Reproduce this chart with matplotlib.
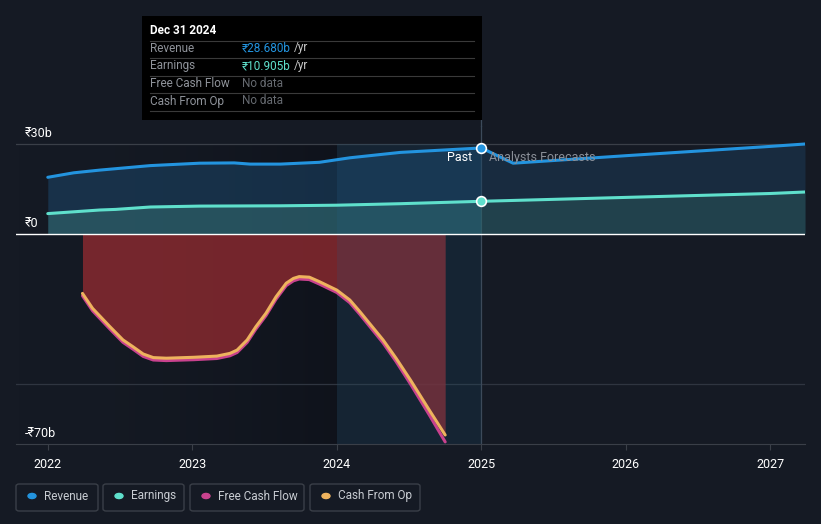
import numpy as np
import matplotlib.pyplot as plt
from matplotlib.patches import Rectangle, FancyBboxPatch
from matplotlib.colors import LinearSegmentedColormap

# ---- data (₹ billions) ----
rev_past_x = [2022.0, 2022.18, 2022.36, 2022.71, 2023.05, 2023.29, 2023.40, 2023.61,
              2023.88, 2024.09, 2024.44, 2024.78, 2025.0]
rev_past_y = [18.9, 20.4, 21.3, 22.8, 23.6, 23.7, 23.3, 23.3, 23.9, 25.4, 27.2, 28.1, 28.68]
rev_fc_x = [2025.0, 2025.22, 2026.0, 2027.0, 2027.24]
rev_fc_y = [28.68, 23.6, 26.1, 29.2, 30.0]

earn_past_x = [2022.0, 2022.36, 2022.47, 2022.71, 2023.05, 2023.61, 2024.0, 2024.44, 2025.0]
earn_past_y = [6.8, 8.0, 8.2, 9.0, 9.3, 9.4, 9.6, 10.1, 10.9]
earn_fc_x = [2025.0, 2026.0, 2027.0, 2027.24]
earn_fc_y = [10.9, 12.2, 13.5, 14.0]

cf_x = [2022.24, 2022.31, 2022.43, 2022.52, 2022.59, 2022.66, 2022.73, 2022.82, 2023.01,
        2023.17, 2023.26, 2023.31, 2023.38, 2023.44, 2023.51, 2023.58, 2023.65, 2023.70,
        2023.74, 2023.81, 2023.88, 2024.0, 2024.09, 2024.16, 2024.32, 2024.41, 2024.51,
        2024.64, 2024.75]
cfo_y = [-19.8, -24.8, -30.9, -35.3, -37.6, -40.0, -41.2, -41.4, -41.1,
         -40.7, -39.8, -38.7, -35.3, -30.9, -26.4, -20.9, -16.4, -14.8,
         -14.2, -14.4, -15.9, -18.7, -22.0, -25.9, -35.3, -41.4, -48.7,
         -58.7, -67.0]
fcf_y = [-20.6, -25.6, -31.7, -36.1, -38.4, -40.8, -42.0, -42.2, -41.9,
         -41.5, -40.6, -39.5, -36.1, -31.7, -27.2, -21.7, -17.2, -15.6,
         -15.0, -15.2, -16.7, -19.5, -22.9, -26.8, -36.3, -42.5, -50.0,
         -60.3, -69.3]

year_ticks = [2022, 2023, 2024, 2025, 2026, 2027]

BG = "#151a24"
C_REV = "#2394df"
C_EARN = "#5fe0cc"
C_FCF = "#c9428e"
C_CFO = "#eeb35e"
plt.rcParams["font.family"] = ["Roboto", "DejaVu Sans"]

fig = plt.figure(figsize=(8.21, 5.24), dpi=100, facecolor=BG)
ax = fig.add_axes([16 / 821, 80 / 524, 789 / 821, 318 / 524])
ax.set_facecolor(BG)
ax.set_xlim(2021.78, 2027.24)
ax.set_ylim(-70, 36)

# darkening toward "now" over the past region
grad = np.linspace(0, 1, 256).reshape(1, -1)
cmap = LinearSegmentedColormap.from_list(
    "g", [(0.08, 0.1, 0.14, 0.0), (0.04, 0.05, 0.08, 0.55)])
ax.imshow(grad, extent=[2021.78, 2024.0, -70, 30], aspect="auto", cmap=cmap, zorder=0)

# fills
ax.fill_between(rev_past_x, 0, rev_past_y, color="#1c4a70", alpha=0.5, lw=0, zorder=1)
ax.fill_between(rev_fc_x, 0, rev_fc_y, color="#1c3a56", alpha=0.55, lw=0, zorder=1)
ax.fill_between(earn_past_x, 0, earn_past_y, color="#3a7a78", alpha=0.45, lw=0, zorder=1.1)
ax.fill_between(earn_fc_x, 0, earn_fc_y, color="#2e5c5c", alpha=0.45, lw=0, zorder=1.1)
ax.fill_between(cf_x, 0, cfo_y, color="#8e2a30", alpha=0.8, lw=0, zorder=1)

# last-year highlight (over the fills, below the lines)
ax.fill_between([2024.0, 2025.0], -70, 30, color="#1a5a80", alpha=0.17, lw=0, zorder=1.5)

# grid lines
ax.axhline(30, color="#3a3f48", lw=0.9, zorder=0.8)
ax.axhline(-50, color="#2f3540", lw=0.9, zorder=0.8)
ax.axhline(0, color="white", lw=1.0, zorder=2)
ax.axvline(2025.0, color="#3c4a5a", lw=0.9, zorder=0.9)

# lines
ax.plot(rev_past_x + rev_fc_x[1:], rev_past_y + rev_fc_y[1:], color=C_REV, lw=2.2,
        solid_capstyle="round", solid_joinstyle="round", zorder=3)
ax.plot(earn_past_x + earn_fc_x[1:], earn_past_y + earn_fc_y[1:], color=C_EARN, lw=2.2,
        solid_capstyle="round", solid_joinstyle="round", zorder=3)
ax.plot(cf_x, fcf_y, color=C_FCF, lw=2.2, solid_capstyle="round",
        solid_joinstyle="round", zorder=3)
ax.plot(cf_x, cfo_y, color=C_CFO, lw=2.2, solid_capstyle="round",
        solid_joinstyle="round", zorder=3.1)

ax.plot([2025.0], [rev_past_y[-1]], "o", ms=7, mfc=C_REV, mec="white", mew=1.2, zorder=4)
ax.plot([2025.0], [earn_past_y[-1]], "o", ms=7, mfc=C_EARN, mec="white", mew=1.2, zorder=4)

ax.text(2024.94, 25.6, "Past", color="white", fontsize=9, ha="right", va="center", zorder=5)
ax.text(2025.05, 25.6, "Analysts Forecasts", color="#8a8f98", fontsize=9, ha="left",
        va="center", zorder=5)

# y labels
for val, lab in [(30, "₹30b"), (0, "₹0"), (-70, "-₹70b")]:
    ax.text(2021.84, val + 1.4, lab, color="white", fontsize=9, ha="left", va="bottom",
            zorder=5)

# axes styling
for s in ["top", "right", "left"]:
    ax.spines[s].set_visible(False)
ax.spines["bottom"].set_color("#3a3f48")
ax.set_yticks([])
ax.set_xticks(year_ticks)
ax.set_xticklabels([str(y) for y in year_ticks])
ax.tick_params(axis="x", colors="#3a3f48", labelcolor="white", labelsize=9, length=4,
               pad=6)

# tooltip
fig.patches.append(Rectangle((142 / 821, 1 - 120 / 524), 340 / 821, 104 / 524,
                             transform=fig.transFigure, facecolor="black", edgecolor="none",
                             zorder=5))
fig.lines.append(plt.Line2D([481 / 821, 481 / 821], [1 - 120 / 524, 1 - 126 / 524],
                            transform=fig.transFigure, color="#3c4a5a", lw=0.9))
fig.text(150 / 821, 1 - 31 / 524, "Dec 31 2024", color="white", fontsize=8.5,
         fontweight="bold", va="center", zorder=7)
rows = [("Revenue", "₹28.680b", C_REV), ("Earnings", "₹10.905b", C_EARN),
        ("Free Cash Flow", "No data", "#666a70"), ("Cash From Op", "No data", "#666a70")]
row_y = [48, 66, 84, 101]
for (lab, val, col), yy in zip(rows, row_y):
    fig.text(150 / 821, 1 - yy / 524, lab, color="#8f939a", fontsize=8.5, va="center",
             zorder=7)
    fig.text(242 / 821, 1 - yy / 524, val, color=col, fontsize=8.5, va="center", zorder=7)
    if val != "No data":
        fig.text(294 / 821, 1 - yy / 524, "/yr", color="#c8c8c8", fontsize=8.5,
                 va="center", zorder=7)
for yy in [41, 58, 76, 93, 111]:
    fig.lines.append(plt.Line2D([150 / 821, 474 / 821], [1 - yy / 524, 1 - yy / 524],
                                transform=fig.transFigure, color="#3a3a3a", lw=0.8,
                                zorder=6))

# legend buttons
legend = [("Revenue", C_REV, 16, 98), ("Earnings", C_EARN, 103, 184),
          ("Free Cash Flow", C_FCF, 190, 304), ("Cash From Op", C_CFO, 310, 420)]
for lab, col, x0, x1 in legend:
    fig.patches.append(FancyBboxPatch((x0 / 821, 1 - 511 / 524), (x1 - x0) / 821, 27 / 524,
                                      boxstyle="round,pad=0,rounding_size=0.004",
                                      transform=fig.transFigure, facecolor=BG,
                                      edgecolor="#3a3f48", lw=1.0))
    fig.patches.append(plt.Circle(((x0 + 16) / 821, 1 - 496 / 524), 4 / 821,
                                  transform=fig.transFigure, color=col))
    fig.text((x0 + 28) / 821, 1 - 496 / 524, lab, color="#c8ccd2", fontsize=8.5,
             va="center")

fig.savefig("out.png", dpi=100, facecolor=BG)
